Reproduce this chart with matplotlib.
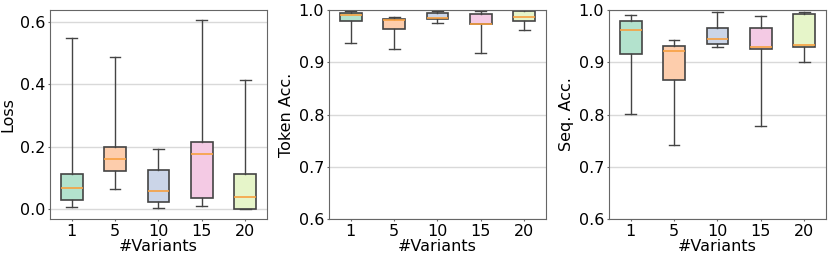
import matplotlib.pyplot as plt

variants = ["1", "5", "10", "15", "20"]
colors = ["#b3e2cd", "#fdcdac", "#cbd5e8", "#f4cae4", "#e6f5c9"]

# per variant: (whislo, q1, med, q3, whishi)
loss = [
    (0.007, 0.029, 0.069, 0.113, 0.548),
    (0.066, 0.124, 0.160, 0.198, 0.489),
    (0.003, 0.022, 0.059, 0.126, 0.194),
    (0.010, 0.037, 0.177, 0.215, 0.607),
    (0.001, 0.002, 0.038, 0.114, 0.414),
]
token_acc = [
    (0.936, 0.979, 0.990, 0.994, 0.998),
    (0.925, 0.963, 0.980, 0.982, 0.986),
    (0.976, 0.983, 0.984, 0.994, 0.999),
    (0.918, 0.973, 0.973, 0.993, 0.999),
    (0.961, 0.978, 0.987, 0.999, 1.000),
]
seq_acc = [
    (0.801, 0.916, 0.961, 0.978, 0.990),
    (0.742, 0.866, 0.921, 0.932, 0.943),
    (0.930, 0.934, 0.945, 0.966, 0.996),
    (0.778, 0.926, 0.930, 0.965, 0.989),
    (0.901, 0.930, 0.933, 0.992, 0.996),
]

plt.rcParams["font.family"] = "DejaVu Sans"
plt.rcParams["font.size"] = 11.5

fig = plt.figure(figsize=(8.3, 2.59), dpi=100)
lefts = [0.0602, 0.3964, 0.7337]
panels = [(loss, "Loss", None), (token_acc, "Token Acc.", (0.6, 1.0)),
          (seq_acc, "Seq. Acc.", (0.6, 1.0))]

for left, (data, ylabel, ylim) in zip(lefts, panels):
    ax = fig.add_axes([left, 0.1544, 0.2614, 0.807])
    stats = [dict(whislo=lo, q1=a, med=m, q3=b, whishi=hi, fliers=[], label=v)
             for (lo, a, m, b, hi), v in zip(data, variants)]
    bp = ax.bxp(stats, positions=range(len(variants)), widths=0.5,
                patch_artist=True, showfliers=False,
                boxprops=dict(edgecolor="#444444", linewidth=1.2),
                whiskerprops=dict(color="#444444", linewidth=1.0),
                capprops=dict(color="#444444", linewidth=1.0),
                medianprops=dict(color="#f7a040", linewidth=1.2))
    for patch, c in zip(bp["boxes"], colors):
        patch.set_facecolor(c)
    ax.set_xlim(-0.5, len(variants) - 0.5)
    if ylim:
        ax.set_ylim(*ylim)
        ax.set_yticks([0.6, 0.7, 0.8, 0.9, 1.0])
    else:
        ax.set_ylim(-0.031, 0.638)
        ax.set_yticks([0.0, 0.2, 0.4, 0.6])
    ax.yaxis.grid(True, color="#d9d9d9", linewidth=1.0)
    ax.set_axisbelow(True)
    for s in ax.spines.values():
        s.set_color("#666666")
    ax.tick_params(length=1.5, pad=2, color="#666666")
    ax.set_xlabel("#Variants", labelpad=0)
    ax.set_ylabel(ylabel, labelpad=3)

fig.savefig("out.png", dpi=100)
